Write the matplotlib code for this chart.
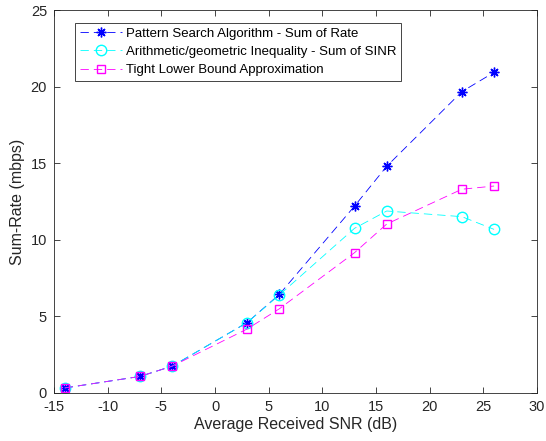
import matplotlib
matplotlib.use("Agg")
import matplotlib.pyplot as plt

plt.rcParams['font.family'] = ['Liberation Sans', 'DejaVu Sans']
plt.rcParams['axes.unicode_minus'] = False

snr = [-14, -7, -4, 3, 6, 13, 16, 23, 26]
pattern_search = [0.33, 1.08, 1.75, 4.6, 6.44, 12.2, 14.8, 19.67, 20.93]
am_gm = [0.33, 1.08, 1.75, 4.6, 6.4, 10.75, 11.88, 11.51, 10.68]
lower_bound = [0.33, 1.08, 1.75, 4.18, 5.5, 9.16, 11.03, 13.3, 13.51]
labels = ["Pattern Search Algorithm - Sum of Rate",
          "Arithmetic/geometric Inequality - Sum of SINR",
          "Tight Lower Bound Approximation"]
xticks = [-15, -10, -5, 0, 5, 10, 15, 20, 25, 30]
yticks = [0, 5, 10, 15, 20, 25]

fig = plt.figure(figsize=(5.46, 4.41), dpi=100)
ax = fig.add_axes([54/546, (441-393)/441, (537-54)/546, (393-10)/441])

dash = (0, (10, 6))
lw = 0.6
ax.plot(snr, pattern_search, color='blue', linestyle=dash, linewidth=lw,
        marker=(8, 2, 0), markersize=7, markeredgewidth=1.0, label=labels[0])
ax.plot(snr, am_gm, color='cyan', linestyle=dash, linewidth=lw,
        marker='o', markersize=7.5, markeredgewidth=1.0,
        markerfacecolor='none', label=labels[1])
ax.plot(snr, lower_bound, color='magenta', linestyle=dash, linewidth=lw,
        marker='s', markersize=6, markeredgewidth=1.0,
        markerfacecolor='none', label=labels[2])

ax.set_xlim(-15, 30)
ax.set_ylim(0, 25)
ax.set_xticks(xticks)
ax.set_yticks(yticks)
ax.tick_params(direction='in', top=True, right=True, labelsize=10.5, length=4,
               width=0.6, colors='#262626', pad=5)
for s in ax.spines.values():
    s.set_linewidth(0.6)
    s.set_color('#262626')
ax.set_xlabel('Average Received SNR (dB)', fontsize=11.5, color='#262626', labelpad=2)
ax.set_ylabel('Sum-Rate (mbps)', fontsize=11.5, color='#262626', labelpad=4)

leg = ax.legend(loc='upper left', bbox_to_anchor=(21/483, 1 - 13/383), fontsize=9.5,
                fancybox=False, edgecolor='#262626', framealpha=1,
                handlelength=3.2, borderpad=0.35, labelspacing=0.45,
                handletextpad=0.3, borderaxespad=0)
leg.get_frame().set_linewidth(0.6)

fig.savefig('out.png', dpi=100)
